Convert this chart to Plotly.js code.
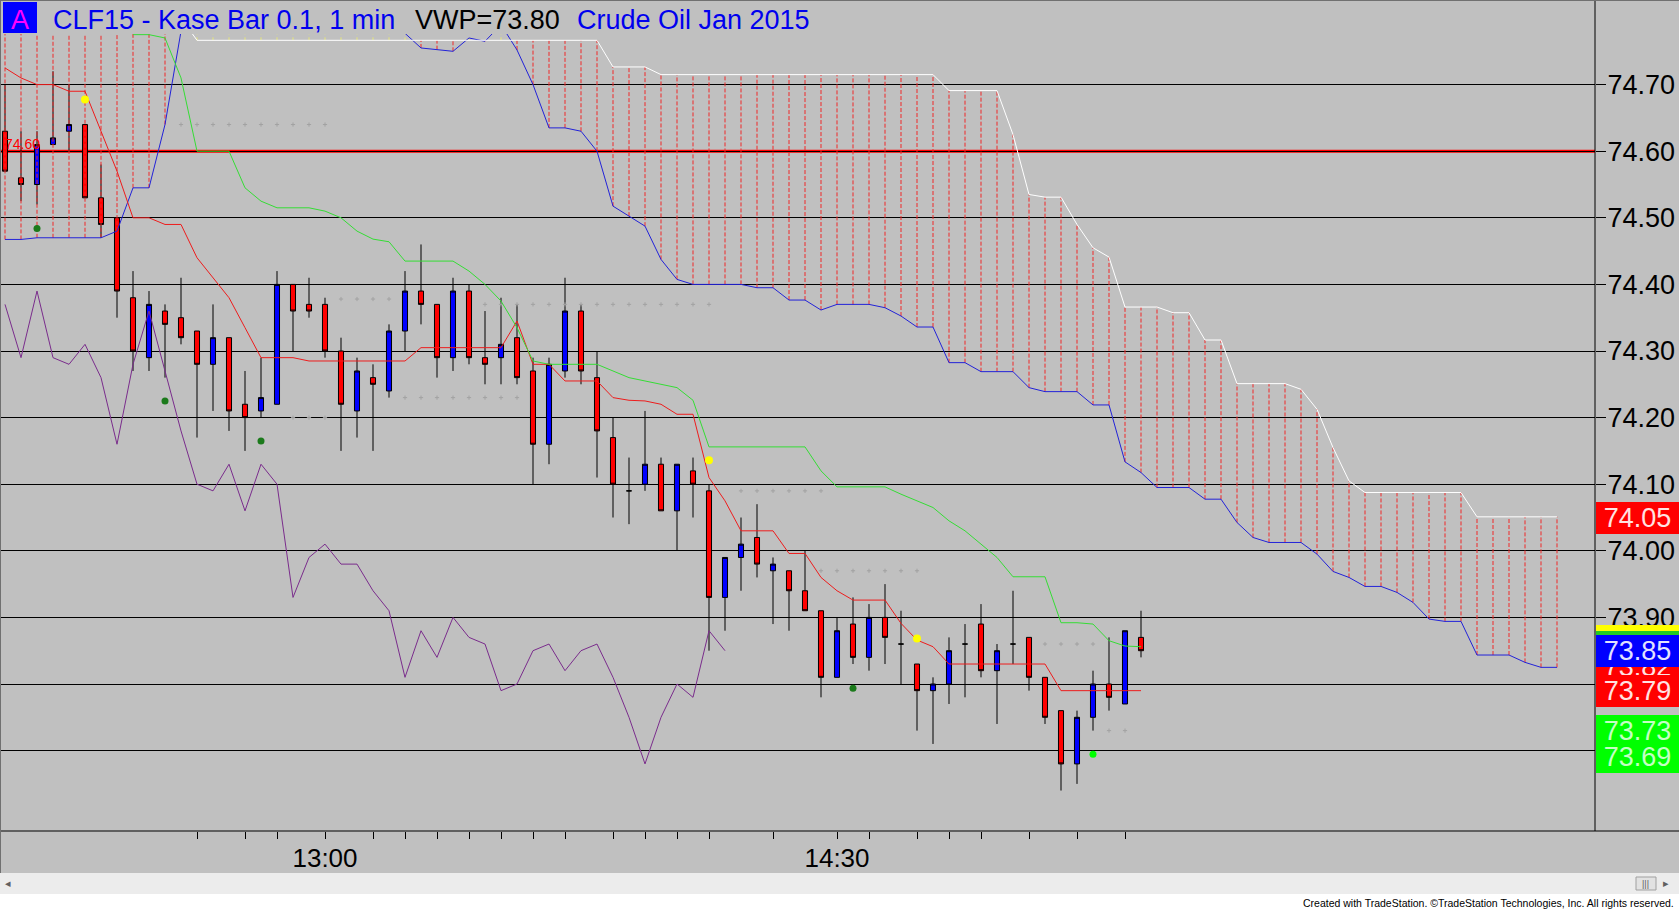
<!DOCTYPE html>
<html><head><meta charset="utf-8">
<script src="https://cdn.plot.ly/plotly-3.0.1.min.js"></script>
<style>html,body{margin:0;padding:0;background:#c0c0c0;overflow:hidden}#chart{width:1679px;height:909px}</style>
</head><body><div id="chart"></div><script>
// ---------- data (bar index 0..71, cloud projected to 97) ----------
const opens  = [74.63,74.56,74.55,74.61,74.63,74.64,74.53,74.50,74.38,74.29,74.36,74.35,74.33,74.28,74.32,74.22,74.21,74.22,74.40,74.37,
                74.37,74.30,74.21,74.26,74.24,74.33,74.39,74.37,74.29,74.39,74.29,74.29,74.32,74.27,74.16,74.27,74.36,74.26,74.17,74.09,
                74.10,74.13,74.06,74.12,74.09,73.93,73.99,74.02,73.97,73.97,73.94,73.91,73.81,73.89,73.84,73.90,73.86,73.83,73.79,73.80,
                73.86,73.89,73.82,73.86,73.87,73.81,73.76,73.68,73.75,73.80,73.77,73.87];
const highs  = [74.70,74.63,74.63,74.72,74.70,74.64,74.58,74.50,74.42,74.39,74.37,74.41,74.33,74.37,74.32,74.27,74.29,74.42,74.40,74.41,
                74.38,74.32,74.29,74.28,74.34,74.42,74.46,74.37,74.41,74.40,74.36,74.38,74.37,74.29,74.29,74.41,74.37,74.30,74.20,74.14,
                74.21,74.14,74.13,74.14,74.10,73.99,74.05,74.07,73.99,73.97,74.00,73.91,73.90,73.93,73.92,73.95,73.91,73.83,73.81,73.87,
                73.89,73.92,73.86,73.94,73.87,73.81,73.76,73.76,73.82,73.87,73.88,73.91];
const lows   = [74.57,74.525,74.52,74.61,74.60,74.53,74.47,74.35,74.27,74.27,74.26,74.31,74.17,74.21,74.18,74.15,74.20,74.22,74.30,74.35,
                74.29,74.15,74.17,74.15,74.23,74.30,74.34,74.26,74.27,74.28,74.25,74.25,74.25,74.10,74.13,74.26,74.25,74.11,74.05,74.04,
                74.09,74.06,74.00,74.05,73.85,73.88,73.94,73.96,73.89,73.88,73.91,73.78,73.81,73.83,73.82,73.83,73.80,73.73,73.71,73.77,
                73.78,73.81,73.74,73.83,73.79,73.74,73.64,73.65,73.73,73.76,73.77,73.84];
const closes = [74.57,74.55,74.61,74.62,74.64,74.53,74.49,74.39,74.30,74.37,74.34,74.32,74.28,74.32,74.21,74.20,74.23,74.40,74.36,74.36,
                74.30,74.22,74.27,74.25,74.33,74.39,74.37,74.29,74.39,74.29,74.28,74.31,74.26,74.16,74.28,74.36,74.27,74.18,74.10,74.09,
                74.13,74.06,74.13,74.10,73.93,73.99,74.01,73.98,73.98,73.94,73.91,73.81,73.88,73.84,73.90,73.87,73.86,73.79,73.80,73.85,
                73.86,73.82,73.85,73.86,73.81,73.75,73.68,73.75,73.80,73.78,73.88,73.85];
// conversion line (red)
const convLine = [74.725,74.71,74.70,74.70,74.69,74.69,74.63,74.57,74.50,74.50,74.49,74.49,74.44,74.41,74.38,74.335,74.29,74.29,74.29,74.285,
                  74.285,74.285,74.285,74.285,74.285,74.285,74.305,74.305,74.305,74.305,74.305,74.305,74.345,74.28,74.28,74.255,74.255,74.255,74.23,74.226,
                  74.225,74.22,74.205,74.205,74.11,74.075,74.03,74.03,74.03,73.996,73.996,73.96,73.94,73.926,73.926,73.926,73.891,73.866,73.856,73.83,
                  73.83,73.83,73.83,73.83,73.83,73.83,73.79,73.79,73.79,73.79,73.79,73.79];
// base line (green)
const baseLine = [null,null,null,null,null,null,null,null,74.775,74.775,74.77,74.71,74.60,74.60,74.60,74.545,74.525,74.515,74.515,74.515,
                  74.51,74.50,74.48,74.468,74.464,74.435,74.435,74.435,74.435,74.42,74.40,74.375,74.335,74.285,74.28,74.28,74.28,74.28,74.27,74.26,
                  74.255,74.25,74.245,74.226,74.156,74.156,74.156,74.156,74.156,74.156,74.156,74.12,74.096,74.096,74.096,74.096,74.085,74.075,74.065,74.045,
                  74.03,74.01,73.99,73.961,73.961,73.961,73.892,73.892,73.89,73.865,73.857,73.856];
// lagging span (purple), bars 0..45
const lagging = [74.37,74.29,74.39,74.29,74.28,74.31,74.26,74.16,74.28,74.36,74.27,74.18,74.10,74.09,74.13,74.06,74.13,74.10,73.93,73.99,
                 74.01,73.98,73.98,73.94,73.91,73.81,73.88,73.84,73.90,73.87,73.86,73.79,73.80,73.85,73.86,73.82,73.85,73.86,73.81,73.75,
                 73.68,73.75,73.80,73.78,73.88,73.85];
// leading span A (blue) and B (white), bars 0..97 (values above 74.78 are off the top of the chart)
const spanA = [74.4675,74.4675,74.47,74.47,74.47,74.47,74.47,74.48,74.545,74.545,74.64,74.78,74.90,74.90,74.90,74.90,74.90,74.90,74.90,74.90,
               74.90,74.90,74.90,74.90,74.83,74.777,74.755,74.7525,74.75,74.77,74.765,74.79,74.752,74.70,74.635,74.635,74.63,74.60,74.5175,74.5025,
               74.4875,74.4375,74.4075,74.40,74.40,74.40,74.40,74.395,74.395,74.3765,74.3765,74.3615,74.37,74.37,74.37,74.365,74.3525,74.336,74.336,74.2825,
               74.2825,74.269,74.269,74.269,74.245,74.239,74.239,74.239,74.219,74.219,74.1335,74.1175,74.095,74.095,74.095,74.0775,74.0775,74.0425,74.02,74.0125,
               74.0125,74.0125,73.995,73.969,73.96,73.9465,73.9465,73.9375,73.9225,73.8975,73.894,73.894,73.8435,73.8435,73.8435,73.8325,73.825,73.825];
const spanB = [74.90,74.90,74.90,74.90,74.90,74.90,74.90,74.90,74.90,74.90,74.90,74.80,74.7665,74.7665,74.7665,74.7665,74.7665,74.7665,74.7665,74.7665,
               74.7665,74.7665,74.7665,74.7665,74.7665,74.7665,74.7665,74.7665,74.7665,74.7665,74.7665,74.7665,74.7665,74.7665,74.7665,74.7665,74.7665,74.7665,74.7265,74.7265,
               74.7265,74.715,74.715,74.715,74.715,74.715,74.715,74.715,74.715,74.715,74.715,74.715,74.715,74.715,74.715,74.715,74.715,74.715,74.715,74.691,
               74.691,74.691,74.691,74.625,74.535,74.531,74.531,74.49,74.455,74.441,74.366,74.366,74.366,74.3575,74.3575,74.3165,74.3165,74.251,74.251,74.251,
               74.251,74.2425,74.2125,74.155,74.105,74.0875,74.0875,74.0875,74.0875,74.0875,74.0875,74.0875,74.051,74.051,74.051,74.051,74.051,74.051];
// faint dotted levels
const dotLevels = [74.64,74.378,74.20,74.23,74.37,74.09,73.97,73.86,73.73];
const dotStart  = [11,21,18,25,30,46,51,65,69];
const dotEnd    = [20,24,20,32,44,51,57,68,70];
// signal dots
const darkDotX = [2,10,16,53];           const darkDotY = [74.484,74.225,74.165,73.7935];
const limeDotX = [68];                   const limeDotY = [73.6945];
const yellowDotX = [5,44,57];            const yellowDotY = [74.6775,74.136,73.8685];
// horizontal level
const hLineLevel = 74.60;
// axes ticks (73.70 and 73.80 labels are covered by the value boxes)
const priceTicks = [73.70,73.80,73.90,74.00,74.10,74.20,74.30,74.40,74.50,74.60,74.70];
const priceTickText = ['','','73.90','74.00','74.10','74.20','74.30','74.40','74.50','74.60','74.70'];
const timeTickIdx  = [12,15,17,20,23,25,27,29,31,33,35,38,40,42,44,48,52,54,57,59,61,64,67,70];
const timeTickText = ['','','','13:00','','','','','','','','','','','','','14:30','','','','','','',''];
// right-hand value boxes
const boxValues = [74.05,73.825,73.79,73.85,73.73,73.69];
const boxTexts  = ['74.05','73.82','73.79','73.85','73.73','73.69'];
const boxFill   = ['#ff0000','#ff0000','#ff0000','#0000ff','#00ff00','#00ff00'];
const boxInk    = ['#ffe2e2','#ffe2e2','#ffe2e2','#e2e2ff','#c4ffc4','#c4ffc4'];
const titleParts = ['CLF15 - Kase Bar 0.1, 1 min','VWP=73.80','Crude Oil Jan 2015'];

// ---------- geometry ----------
const W=1679,H=909, PL=0, PR=1595, PT=34, PB=831;
const fx = px => (px-PL)/(PR-PL);
const fy = py => (PB-py)/(PB-PT);
const FONT = 'Liberation Sans, Arial, sans-serif';

const barIdx = closes.map((_,k)=>k);
const spanIdx = spanA.map((_,k)=>k);
const lagIdx = lagging.map((_,k)=>k);

// cloud dashes
const rX=[],rY=[],yX=[],yY=[];
spanIdx.forEach(k=>{
  const a=spanA[k], b=spanB[k];
  if (b>a){ rX.push(k,k,null); rY.push(a,b,null); }
  else if (a>b){ yX.push(k,k,null); yY.push(b,a,null); }
});
// dotted levels
const dX=[],dY=[];
dotLevels.forEach((v,j)=>{ for(let k=dotStart[j];k<=dotEnd[j];k++){ dX.push(k); dY.push(v);} });

const traces = [
  {type:'scatter',mode:'lines',x:yX,y:yY,line:{color:'#e6e67a',width:1,dash:'3px,3px'},connectgaps:false,hoverinfo:'skip'},
  {type:'scatter',mode:'lines',x:rX,y:rY,line:{color:'#f02828',width:1,dash:'4px,2px'},connectgaps:false,hoverinfo:'skip'},
  {type:'scatter',mode:'markers',x:dX,y:dY,marker:{symbol:'cross-thin',size:3,line:{color:'#a2a2a2',width:1}},hoverinfo:'skip'},
  {type:'scatter',mode:'lines',x:lagIdx,y:lagging,line:{color:'#7a2c8c',width:1},hoverinfo:'skip'},
  {type:'scatter',mode:'lines',x:spanIdx,y:spanA,line:{color:'#2222d8',width:1},hoverinfo:'skip'},
  {type:'scatter',mode:'lines',x:spanIdx,y:spanB,line:{color:'#ffffff',width:1},hoverinfo:'skip'},
  {type:'candlestick',x:barIdx,open:opens,high:highs,low:lows,close:closes,whiskerwidth:0,
   increasing:{line:{color:'#000000',width:1},fillcolor:'#0000ff'},
   decreasing:{line:{color:'#000000',width:1},fillcolor:'#ff0000'},hoverinfo:'skip'},
  {type:'scatter',mode:'lines',x:barIdx,y:convLine,line:{color:'#ee1c1c',width:1},hoverinfo:'skip'},
  {type:'scatter',mode:'lines',x:barIdx,y:baseLine,line:{color:'#35dd35',width:1},connectgaps:false,hoverinfo:'skip'},
  {type:'scatter',mode:'markers',x:darkDotX,y:darkDotY,marker:{color:'#1b7a1b',size:7},hoverinfo:'skip'},
  {type:'scatter',mode:'markers',x:limeDotX,y:limeDotY,marker:{color:'#00ff00',size:7},hoverinfo:'skip'},
  {type:'scatter',mode:'markers',x:yellowDotX,y:yellowDotY,marker:{color:'#ffff00',size:8},hoverinfo:'skip'}
];

const yTop = 74.70 + (84.6-PT)/666, yBot = 74.70 - (PB-84.6)/666;
const xLeft = -5/16, xRight = (PR-5)/16;

const shapes = [
  {type:'line',xref:'paper',yref:'y',x0:0,x1:1,y0:hLineLevel,y1:hLineLevel,line:{color:'#ff0000',width:3},layer:'between'},
  {type:'line',xref:'paper',yref:'paper',x0:1,x1:1,y0:0,y1:fy(0),line:{color:'#000',width:1}},
  {type:'line',xref:'paper',yref:'paper',x0:0,x1:fx(W),y0:0,y1:0,line:{color:'#000',width:1}},
  {type:'line',xref:'paper',yref:'paper',x0:0,x1:fx(W),y0:fy(0.5),y1:fy(0.5),line:{color:'#707070',width:1}},
  {type:'line',xref:'paper',yref:'paper',x0:fx(0.5),x1:fx(0.5),y0:fy(0),y1:fy(873),line:{color:'#707070',width:1}},
  {type:'rect',xref:'paper',yref:'paper',x0:fx(3),x1:fx(37),y0:fy(33),y1:fy(2),fillcolor:'#0000ff',line:{width:0}},
  {type:'rect',xref:'paper',yref:'paper',x0:fx(1596),x1:fx(W),y0:fy(631),y1:fy(625),fillcolor:'#ffff00',line:{width:0}},
  {type:'rect',xref:'paper',yref:'paper',x0:fx(1596),x1:fx(W),y0:fy(635),y1:fy(631),fillcolor:'#22cc22',line:{width:0}},
  {type:'rect',xref:'paper',yref:'paper',x0:fx(0),x1:fx(W),y0:fy(894),y1:fy(873),fillcolor:'#ececec',line:{width:0}},
  {type:'rect',xref:'paper',yref:'paper',x0:fx(0),x1:fx(W),y0:fy(H),y1:fy(894),fillcolor:'#ffffff',line:{width:0}},
  {type:'rect',xref:'paper',yref:'paper',x0:fx(1636),x1:fx(1656),y0:fy(890),y1:fy(877),fillcolor:'#e2e2e2',line:{color:'#a0a0a0',width:1}}
];

const annotations = [
  {xref:'paper',yref:'paper',x:fx(20),y:fy(20),text:'A',showarrow:false,xanchor:'center',yanchor:'middle',font:{family:FONT,size:27,color:'#ff00ff'}},
  {xref:'paper',yref:'paper',x:fx(51),y:fy(20),text:titleParts[0],showarrow:false,xanchor:'left',yanchor:'middle',font:{family:FONT,size:27,color:'#0000ee'}},
  {xref:'paper',yref:'paper',x:fx(413),y:fy(20),text:titleParts[1],showarrow:false,xanchor:'left',yanchor:'middle',font:{family:FONT,size:27,color:'#000000'}},
  {xref:'paper',yref:'paper',x:fx(575),y:fy(20),text:titleParts[2],showarrow:false,xanchor:'left',yanchor:'middle',font:{family:FONT,size:27,color:'#0000ee'}},
  {xref:'paper',yref:'y',x:fx(3),y:hLineLevel,text:hLineLevel.toFixed(2),showarrow:false,xanchor:'left',yanchor:'bottom',yshift:-3,font:{family:FONT,size:14,color:'#ff0000'}},
  {xref:'paper',yref:'paper',x:fx(1676),y:fy(903),text:'Created with TradeStation. ©TradeStation Technologies, Inc. All rights reserved.',showarrow:false,xanchor:'right',yanchor:'middle',font:{family:FONT,size:10.5,color:'#000'}},
  {xref:'paper',yref:'paper',x:fx(1646),y:fy(883.5),text:'|||',showarrow:false,xanchor:'center',yanchor:'middle',font:{family:FONT,size:9,color:'#606060'}},
  {xref:'paper',yref:'paper',x:fx(1666),y:fy(883.5),text:'▸',showarrow:false,xanchor:'center',yanchor:'middle',font:{family:'DejaVu Sans',size:11,color:'#606060'}},
  {xref:'paper',yref:'paper',x:fx(8),y:fy(883.5),text:'◂',showarrow:false,xanchor:'center',yanchor:'middle',font:{family:'DejaVu Sans',size:11,color:'#606060'}}
];
boxValues.forEach((v,j)=>{
  annotations.push({xref:'paper',yref:'y',x:fx(1637.5),y:v,text:boxTexts[j],showarrow:false,xanchor:'center',yanchor:'middle',
    width:83,height:32,borderpad:0,borderwidth:0,bgcolor:boxFill[j],align:'center',valign:'middle',
    font:{family:FONT,size:27,color:boxInk[j]}});
});

const layout = {
  width:W,height:H,margin:{l:PL,r:W-PR,t:PT,b:H-PB,pad:0},
  paper_bgcolor:'#c0c0c0',plot_bgcolor:'#c0c0c0',showlegend:false,hovermode:false,
  font:{family:FONT,color:'#000'},
  boxgap:0.55,
  xaxis:{range:[xLeft,xRight],autorange:false,showgrid:false,zeroline:false,showline:false,
         tickmode:'array',tickvals:timeTickIdx,ticktext:timeTickText,ticks:'outside',ticklen:7,tickwidth:1,tickcolor:'#000',
         ticklabelstandoff:-3,
         tickfont:{family:FONT,size:26,color:'#000'},rangeslider:{visible:false},fixedrange:true},
  yaxis:{range:[yBot,yTop],autorange:false,side:'right',showgrid:true,gridcolor:'#000',gridwidth:1,zeroline:false,showline:false,
         tickmode:'array',tickvals:priceTicks,ticktext:priceTickText,ticks:'outside',ticklen:10,tickwidth:1,tickcolor:'#000',
         ticklabelstandoff:-4,
         tickfont:{family:FONT,size:27,color:'#000'},fixedrange:true},
  shapes:shapes,annotations:annotations
};
Plotly.newPlot('chart',traces,layout,{staticPlot:true,displayModeBar:false});
</script></body></html>
